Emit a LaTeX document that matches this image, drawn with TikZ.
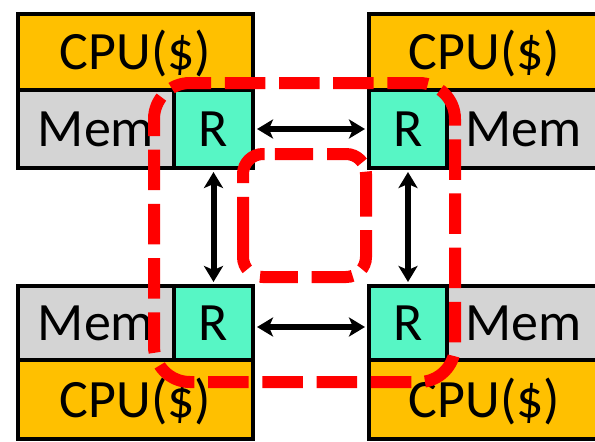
\documentclass[tikz,border=0pt]{standalone}
\usepackage{fontspec}
\setmainfont{Carlito}
\usepackage{xcolor}
\usepackage{tikz}
\usetikzlibrary{arrows.meta}

\definecolor{cpuorange}{HTML}{FFC000}
\definecolor{memgray}{HTML}{D4D4D4}
\definecolor{routergreen}{HTML}{57F6C5}
\definecolor{ringred}{HTML}{FF0000}

\tikzset{
  blk/.style={draw=black, line width=4pt, inner sep=0pt, text height=35pt, text depth=0pt,
    font=\fontsize{54}{60}\selectfont},
  cpubox/.style={blk, fill=cpuorange},
  membox/.style={blk, fill=memgray},
  router/.style={blk, fill=routergreen},
  lowtext/.style={text depth=-12pt},
  link/.style={<->, >={Stealth[length=16pt,width=19pt,inset=4pt]}, line width=6pt,
    shorten <=2pt, shorten >=2pt},
  ring/.style={draw=ringred, line width=12pt}
}

\begin{document}
\begin{tikzpicture}[x=1pt, y=-1pt]
        \useasboundingbox (0,0) rectangle (595,442);
        \clip (0,0) rectangle (595,442);
        % top row
        \node[cpubox, minimum width=235pt, minimum height=76pt] (cpuTL) at (135.5,52) {CPU(\$)};
        \node[membox, minimum width=156pt, minimum height=78pt] (memTL) at (96,129) {Mem};
        \node[router, minimum width=79pt, minimum height=78pt] (rTL) at (213.5,129) {R};
        \node[cpubox, minimum width=231pt, minimum height=76pt] (cpuTR) at (484.5,52) {CPU(\$)};
        \node[router, minimum width=78pt, minimum height=78pt] (rTR) at (408,129) {R};
        \node[membox, minimum width=153pt, minimum height=78pt] (memTR) at (523.5,129) {Mem};
        % bottom row
        \node[membox, lowtext, minimum width=156pt, minimum height=74pt] (memBL) at (96,323) {Mem};
        \node[router, lowtext, minimum width=79pt, minimum height=74pt] (rBL) at (213.5,323) {R};
        \node[cpubox, lowtext, minimum width=235pt, minimum height=79pt] (cpuBL) at (135.5,399.5) {CPU(\$)};
        \node[router, lowtext, minimum width=78pt, minimum height=74pt] (rBR) at (408,323) {R};
        \node[membox, lowtext, minimum width=153pt, minimum height=74pt] (memBR) at (523.5,323) {Mem};
        \node[cpubox, lowtext, minimum width=231pt, minimum height=79pt] (cpuBR) at (484.5,399.5) {CPU(\$)};
        % links between routers
        \draw[link] (rTL) -- (rTR);
        \draw[link] ([yshift=-4pt]rBL.east) -- ([yshift=-4pt]rBR.west);
        \draw[link] (rTL) -- (rBL);
        \draw[link] (rTR) -- (rBR);
        % dashed rings, started in a gap of the top edge
        \draw[ring, rounded corners=36pt, dash pattern=on 40.5pt off 13.7pt, dash phase=47.7pt]
          (236.5,83) -- (455,83) -- (455,382) -- (154,382) -- (154,83) -- cycle;
        \draw[ring, rounded corners=20pt,
          dash pattern=on 38pt off 10pt on 45pt off 13.4pt on 40pt off 11.6pt on 41pt off 13.8pt
            on 38pt off 15pt on 73.4pt off 13.8pt on 42pt off 10.4pt on 38.2pt off 14pt,
          dash phase=450.6pt]
          (300,154) -- (366,154) -- (366,277) -- (243,277) -- (243,154) -- cycle;
    \end{tikzpicture}
\end{document}
